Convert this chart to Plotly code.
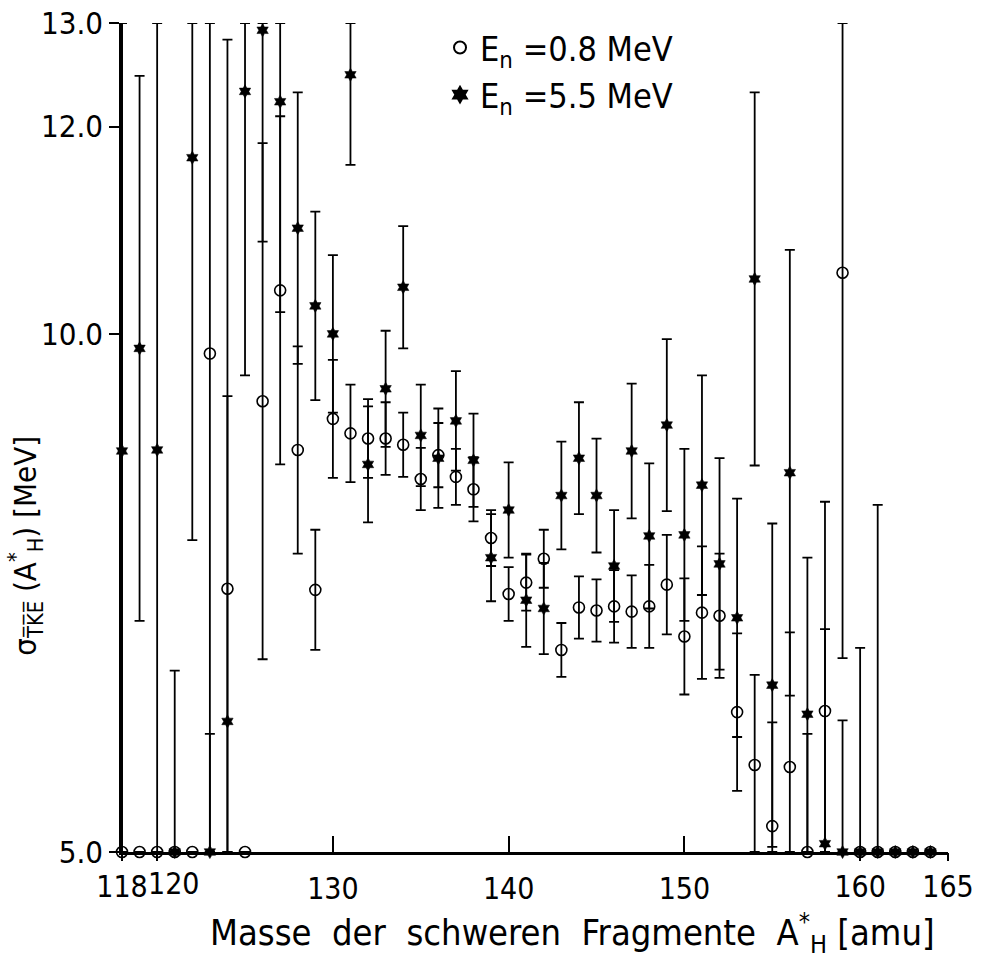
import plotly.graph_objects as go

# heavy fragment mass A_H* [amu]
mass = list(range(118, 165))

# E_n = 0.8 MeV  (open circles): sigma_TKE [MeV] and its error
sig_08 = [5.00, 5.00, 5.00, 5.00, 5.00, 9.81, 7.54, 5.00, 9.35, 10.42,
          8.88, 7.53, 9.18, 9.04, 8.99, 8.99, 8.93, 8.60, 8.83, 8.62,
          8.50, 8.03, 7.49, 7.60, 7.83, 6.95, 7.36, 7.33, 7.37, 7.32,
          7.37, 7.58, 7.08, 7.31, 7.28, 6.35, 5.84, 5.25, 5.82, 5.00,
          6.36, 10.59, 5.00, 5.00, 5.00, 5.00, 5.00]
err_08 = [8.50, 0.00, 0.00, 0.00, 0.00, 5.00, 5.30, 0.00, 2.49, 1.68,
          1.00, 0.58, 0.57, 0.47, 0.38, 0.35, 0.31, 0.30, 0.31, 0.27,
          0.31, 0.27, 0.26, 0.27, 0.28, 0.26, 0.30, 0.30, 0.35, 0.35,
          0.40, 0.48, 0.56, 0.64, 0.60, 0.76, 0.87, 1.00, 1.30, 1.14,
          2.02, 3.72, 1.97, 3.35, 0.00, 0.00, 0.00]

# E_n = 5.5 MeV  (filled stars)
sig_55 = [8.87, 9.86, 8.88, 5.00, 11.70, 5.00, 6.26, 12.34, 12.93, 12.24,
          11.02, 10.27, 10.00, 12.50, 8.74, 9.47, 10.45, 9.02, 8.80, 9.16,
          8.78, 7.84, 8.30, 7.43, 7.35, 8.44, 8.80, 8.44, 7.76, 8.87,
          8.05, 9.12, 8.06, 8.54, 7.78, 7.26, 10.53, 6.61, 8.66, 6.33,
          5.08, 5.00, 5.00, 5.00, 5.00, 5.00, 5.00]
err_55 = [4.50, 2.63, 4.50, 1.75, 3.69, 1.14, 3.14, 2.74, 2.04, 2.03,
          1.31, 0.91, 0.76, 0.87, 0.56, 0.56, 0.59, 0.49, 0.48, 0.48,
          0.45, 0.42, 0.46, 0.45, 0.44, 0.52, 0.54, 0.55, 0.54, 0.65,
          0.70, 0.83, 0.83, 1.06, 1.02, 1.15, 1.80, 1.56, 2.15, 1.51,
          2.07, 1.27, 0.00, 0.00, 0.00, 0.00, 0.00]

x_ticks_in = [130, 140, 150]            # ticks drawn inward (labelled)
x_ticks_out = [118, 160, 165]           # ticks drawn outward (labelled)
x_ticks_nudged = [120]                  # outward tick whose label sits slightly right
y_ticks = [5.0, 10.0, 12.0, 13.0]
Y_MIN, Y_MAX = 5.0, 13.0
X_MIN, X_MAX = 118, 165

FONT = "DejaVu Sans Condensed, Liberation Sans Narrow, DejaVu Sans, sans-serif"


def clipped(vals, errs):
    up, dn = [], []
    for v, e in zip(vals, errs):
        if e == 0:
            up.append(None)
            dn.append(None)
        else:
            up.append(min(v + e, Y_MAX) - v)
            dn.append(v - max(v - e, Y_MIN))
    return up, dn


up08, dn08 = clipped(sig_08, err_08)
up55, dn55 = clipped(sig_55, err_55)

fig = go.Figure()
fig.add_trace(go.Scatter(
    x=mass, y=sig_08, mode="markers", name="E<sub>n</sub> =0.8 MeV",
    marker=dict(symbol="circle-open", size=11, color="black", line=dict(width=1.6, color="black")),
    error_y=dict(type="data", symmetric=False, array=up08, arrayminus=dn08,
                 color="black", thickness=1.8, width=5),
    cliponaxis=False,
))
fig.add_trace(go.Scatter(
    x=mass, y=sig_55, mode="markers", name="E<sub>n</sub> =5.5 MeV",
    marker=dict(symbol="hexagram", size=10, color="black", line=dict(width=0.5, color="black")),
    error_y=dict(type="data", symmetric=False, array=up55, arrayminus=dn55,
                 color="black", thickness=1.8, width=5),
    cliponaxis=False,
))
# empty helper traces so that the overlaid outward-tick axes are drawn
fig.add_trace(go.Scatter(x=[], y=[], xaxis="x2", yaxis="y", showlegend=False, hoverinfo="skip"))
fig.add_trace(go.Scatter(x=[], y=[], xaxis="x3", yaxis="y", showlegend=False, hoverinfo="skip"))

tick_font = dict(size=30, family=FONT)
fig.update_layout(
    width=983, height=962,
    margin=dict(l=122, r=35, t=23, b=110),
    paper_bgcolor="white", plot_bgcolor="white",
    font=dict(family=FONT, color="black", size=30),
    showlegend=True,
    legend=dict(x=0.385, y=1.005, xanchor="left", yanchor="top",
                bgcolor="rgba(0,0,0,0)", font=dict(size=34, family=FONT),
                itemsizing="constant", tracegroupgap=0),
    xaxis=dict(range=[X_MIN, X_MAX], tickvals=x_ticks_in, ticktext=[str(t) for t in x_ticks_in],
               tickangle=0, ticks="inside", ticklen=16, tickwidth=2, tickcolor="black",
               ticklabelstandoff=8,
               showline=True, linewidth=2.5, linecolor="black", showgrid=False,
               zeroline=False, automargin=False, tickfont=tick_font),
    xaxis2=dict(range=[X_MIN, X_MAX], overlaying="x", anchor="y", side="bottom",
                tickvals=x_ticks_out, ticktext=[str(t) for t in x_ticks_out],
                tickangle=0, ticks="outside", ticklen=8, tickwidth=2, tickcolor="black",
                showline=False, showgrid=False, zeroline=False, automargin=False,
                tickfont=tick_font),
    # tick mark only, no label
    xaxis3=dict(range=[X_MIN, X_MAX], overlaying="x", anchor="y", side="bottom",
                tickvals=x_ticks_nudged, showticklabels=False,
                ticks="outside", ticklen=8, tickwidth=2, tickcolor="black",
                showline=False, showgrid=False, zeroline=False, automargin=False),
    yaxis=dict(range=[Y_MIN, Y_MAX], tickvals=y_ticks, ticktext=[f"{t:.1f}" for t in y_ticks],
               ticks="outside", ticklen=10, tickwidth=2, tickcolor="black",
               showline=True, linewidth=2.5, linecolor="black", showgrid=False,
               zeroline=False, automargin=False, tickfont=dict(size=31, family=FONT)),
)

# the "120" tick label, nudged right so it clears "118"
for t in x_ticks_nudged:
    fig.add_annotation(
        text=str(t), xref="x", yref="paper", x=t, y=0,
        xanchor="center", yanchor="top", xshift=17, yshift=-12,
        showarrow=False, font=tick_font,
    )
fig.add_annotation(
    text="Masse\u00a0\u00a0der\u00a0\u00a0schweren\u00a0\u00a0Fragmente\u00a0\u00a0A<sup>*</sup><sub>H</sub>\u00a0[amu]",
    xref="paper", yref="paper", x=0.545, y=-0.098, xanchor="center", yanchor="middle",
    showarrow=False, font=dict(size=36, family=FONT),
)
fig.add_annotation(
    text="σ<sub>T\u0305K\u0305E\u0305</sub> (A<sup>*</sup><sub>H</sub>) [MeV]",
    xref="paper", yref="paper", x=-0.117, y=0.37, xanchor="center", yanchor="middle",
    textangle=-90, showarrow=False, font=dict(size=31, family=FONT),
)

fig.write_html("out.html")
